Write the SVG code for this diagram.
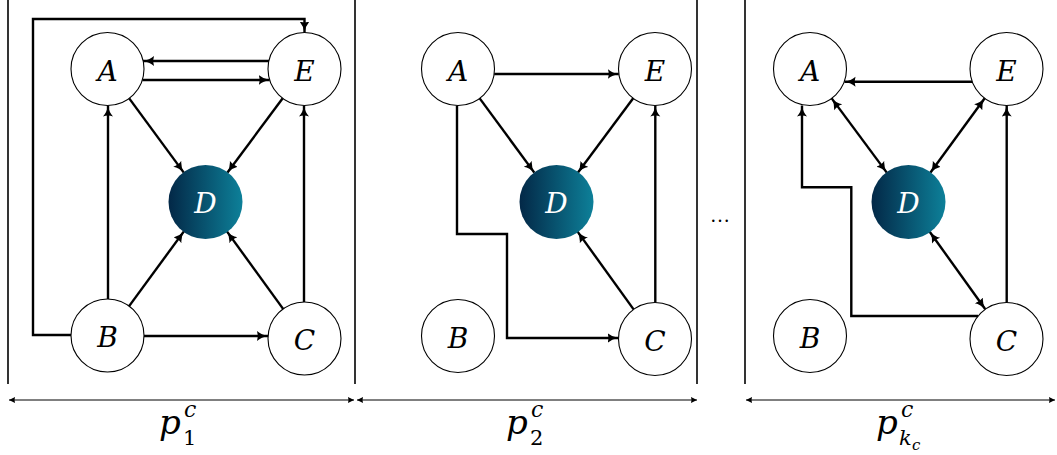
<svg xmlns="http://www.w3.org/2000/svg" width="1057" height="455" viewBox="0 0 1057 455">
<style>
.node circle{fill:#fff;stroke:#000;stroke-width:1.1}
.node text{font-family:'DejaVu Serif';font-style:italic;font-size:28px;text-anchor:middle;fill:#000}
.dnode circle{fill:url(#dg);stroke:none}
.dnode text{font-family:'DejaVu Serif';font-style:italic;font-size:28px;text-anchor:middle;fill:#fff}
.e{fill:none;stroke:#000;stroke-width:2.4;marker-end:url(#ah)}
.e2{fill:none;stroke:#000;stroke-width:2.4;marker-end:url(#ah);marker-start:url(#ahs)}
.sep{stroke:#000;stroke-width:1.6}
.ax{stroke:#000;stroke-width:1;marker-end:url(#sa);marker-start:url(#sas)}
.lab{font-family:'DejaVu Serif';font-style:italic;fill:#000}
.up{font-style:normal}
.dots{font-family:'Liberation Serif';font-size:20px;text-anchor:middle;fill:#000}
</style>
<defs>
<linearGradient id="dg" x1="0" y1="0" x2="1" y2="0">
<stop offset="0" stop-color="#032847"/>
<stop offset="1" stop-color="#0d8099"/>
</linearGradient>
<marker id="ah" markerUnits="userSpaceOnUse" markerWidth="13" markerHeight="11" refX="11" refY="5" orient="auto">
<path d="M0,0 Q4.5,4 11,5 Q4.5,6 0,10 Q1.8,5 0,0z" fill="#000"/>
</marker>
<marker id="ahs" markerUnits="userSpaceOnUse" markerWidth="13" markerHeight="11" refX="0" refY="5" orient="auto">
<path d="M11,0 Q6.5,4 0,5 Q6.5,6 11,10 Q9.2,5 11,0z" fill="#000"/>
</marker>
<marker id="sa" markerUnits="userSpaceOnUse" markerWidth="8" markerHeight="8" refX="6" refY="3" orient="auto">
<path d="M0,0 L6,3 L0,6 Q1,3 0,0z" fill="#000"/>
</marker>
<marker id="sas" markerUnits="userSpaceOnUse" markerWidth="8" markerHeight="8" refX="0" refY="3" orient="auto">
<path d="M6,0 L0,3 L6,6 Q5,3 6,0z" fill="#000"/>
</marker>
</defs>

<g id="frames">
<line class="sep" x1="8" y1="0" x2="8" y2="384"/>
<line class="sep" x1="355" y1="0" x2="355" y2="384"/>
<line class="sep" x1="697" y1="0" x2="697" y2="384"/>
<line class="sep" x1="745" y1="0" x2="745" y2="384"/>
<line class="ax" x1="9" y1="400" x2="354" y2="400"/>
<line class="ax" x1="357" y1="400" x2="697" y2="400"/>
<line class="ax" x1="746" y1="400" x2="1055" y2="400"/>
<text class="dots" x="720" y="222">…</text>
</g>

<g id="connectors">
<path class="e" d="M71,335 H33 V19 H304.5 V32.5"/>
<path class="e" d="M269,61 H143"/>
<path class="e" d="M142.3,80 H269.7"/>
<path class="e" d="M129.2,98.4 L183.8,172.6"/>
<path class="e" d="M282.7,98.3 L227.3,172.7"/>
<path class="e" d="M108,299 V105.5"/>
<path class="e" d="M304,302 V105.5"/>
<path class="e" d="M129.1,306.1 L183.9,231.4"/>
<path class="e" d="M283.1,308.9 L226.9,231.4"/>
<path class="e" d="M144,336 H268"/>
<path class="e" d="M494.2,74 H618.8"/>
<path class="e" d="M479.7,98.4 L534.3,172.6"/>
<path class="e" d="M633.2,98.3 L577.8,172.7"/>
<path class="e" d="M655.3,302.5 V105.5"/>
<path class="e" d="M633.6,309.4 L577.4,231.4"/>
<path class="e" d="M457,105.5 V234 H507 V338 H618.5"/>
<path class="e" d="M972.5,81.7 H844.5"/>
<path class="e2" d="M831.7,98.4 L886.8,172.6"/>
<path class="e2" d="M984.7,98.3 L930.3,172.7"/>
<path class="e2" d="M929.7,231.7 L985.3,309.3"/>
<path class="e" d="M978,316 H851.3 V187.3 H802 V105.5"/>
<path class="e" d="M1006.7,302.5 V105.5"/>
</g>

<g id="p1-A" class="node"><circle cx="107.5" cy="69" r="36.5"/><text x="107.5" y="81">A</text></g>
<g id="p1-E" class="node"><circle cx="304.5" cy="69" r="36.5"/><text x="304.5" y="81">E</text></g>
<g id="p1-D" class="dnode"><circle cx="205.5" cy="202" r="37"/><text x="205.5" y="213">D</text></g>
<g id="p1-B" class="node"><circle cx="107.5" cy="335.5" r="36.5"/><text x="107.5" y="347">B</text></g>
<g id="p1-C" class="node"><circle cx="304.5" cy="338.5" r="36.5"/><text x="304.5" y="350">C</text></g>

<g id="p2-A" class="node"><circle cx="458" cy="69" r="36.5"/><text x="458" y="81">A</text></g>
<g id="p2-E" class="node"><circle cx="655" cy="69" r="36.5"/><text x="655" y="81">E</text></g>
<g id="p2-D" class="dnode"><circle cx="556.5" cy="202" r="37"/><text x="556.5" y="213">D</text></g>
<g id="p2-B" class="node"><circle cx="458" cy="336" r="36.5"/><text x="458" y="347.5">B</text></g>
<g id="p2-C" class="node"><circle cx="655" cy="339" r="36.5"/><text x="655" y="350.5">C</text></g>

<g id="p3-A" class="node"><circle cx="810" cy="69" r="36.5"/><text x="810" y="81">A</text></g>
<g id="p3-E" class="node"><circle cx="1006.5" cy="69" r="36.5"/><text x="1006.5" y="81">E</text></g>
<g id="p3-D" class="dnode"><circle cx="908.5" cy="202" r="37"/><text x="908.5" y="213">D</text></g>
<g id="p3-B" class="node"><circle cx="810" cy="336" r="36.5"/><text x="810" y="347.5">B</text></g>
<g id="p3-C" class="node"><circle cx="1006.5" cy="339" r="36.5"/><text x="1006.5" y="350.5">C</text></g>

<g id="labels">
<text class="lab"><tspan x="159" y="434" font-size="34">p</tspan><tspan x="184" y="417" font-size="22">c</tspan><tspan class="up" x="183" y="445" font-size="21">1</tspan></text>
<text class="lab"><tspan x="506" y="434" font-size="34">p</tspan><tspan x="531" y="417" font-size="22">c</tspan><tspan class="up" x="530" y="445" font-size="21">2</tspan></text>
<text class="lab"><tspan x="876" y="434" font-size="34">p</tspan><tspan x="901" y="417" font-size="22">c</tspan><tspan x="899" y="445" font-size="21">k</tspan><tspan x="912" y="450" font-size="15">c</tspan></text>
</g>
</svg>
